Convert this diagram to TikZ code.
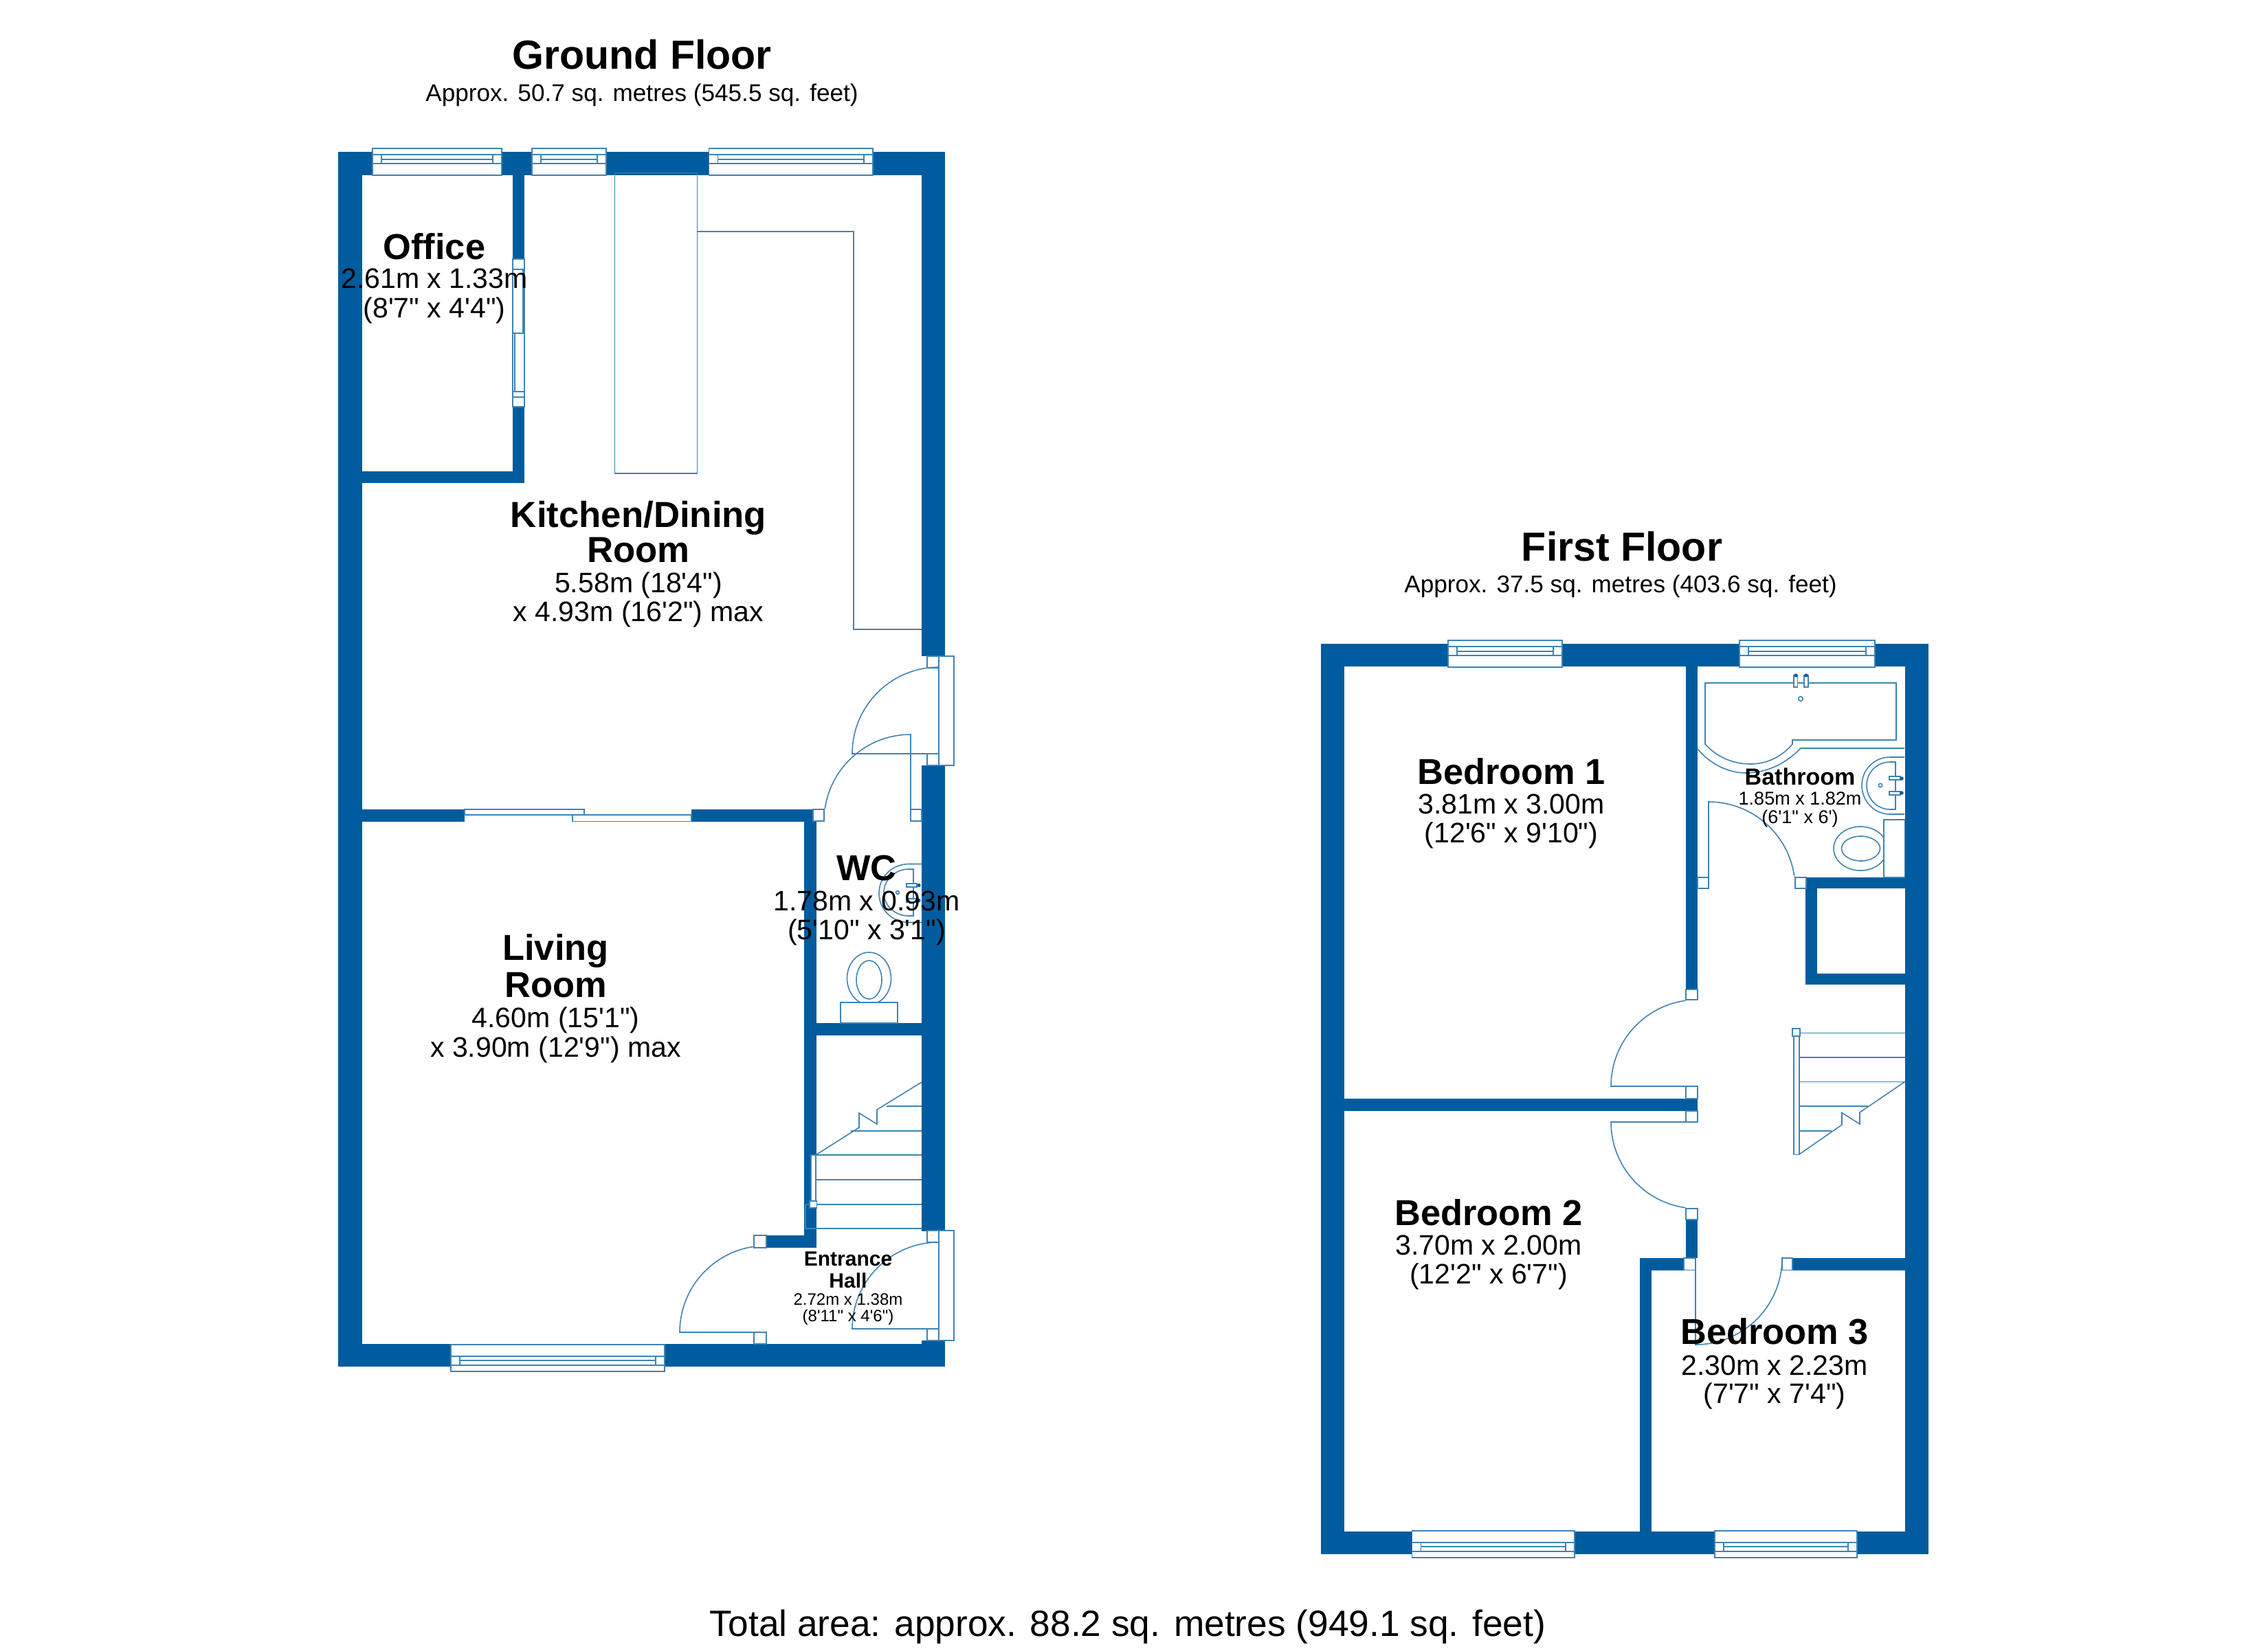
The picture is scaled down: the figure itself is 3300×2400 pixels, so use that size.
\documentclass[tikz,border=0pt]{standalone}
\usepackage{fontspec}
\setmainfont{Liberation Sans}
\newfontfamily\plainface{Liberation Sans}
\definecolor{wallblue}{HTML}{005C9E}
\definecolor{linkblue}{HTML}{3F83B3}
\tikzset{
  wall/.style={fill=wallblue,draw=none},
  fixture/.style={draw=linkblue,line width=0.45pt,fill=white},
  outline/.style={draw=linkblue,line width=0.45pt},
  tapdot/.style={fill=wallblue,draw=none},
  label/.style={anchor=base,align=center,inner sep=0pt,outer sep=0pt,text=black},
}
\newcommand\sz[2]{\fontsize{#1}{#2}\selectfont\plainface}
\newcommand\nm[1]{\bfseries\sz{14.9}{14.9}#1}
\newcommand\dm[1]{\sz{11.67}{11.8}#1}
\newcommand\winT[3]{%
  \filldraw[fixture] (#1,#3) rectangle (#2,{#3+39});
  \draw[outline] (#1,{#3+9}) -- (#2,{#3+9}) (#1,{#3+22}) -- (#2,{#3+22});
  \draw[outline] ({#1+13},{#3+9}) -- ({#1+13},{#3+22}) ({#2-13},{#3+9}) -- ({#2-13},{#3+22});
  \draw[outline] ({#1+13},{#3+16}) -- ({#2-13},{#3+16});
}
\newcommand\winB[3]{%
  \filldraw[fixture] (#1,{#3-39}) rectangle (#2,#3);
  \draw[outline] (#1,{#3-9}) -- (#2,{#3-9}) (#1,{#3-22}) -- (#2,{#3-22});
  \draw[outline] ({#1+13},{#3-9}) -- ({#1+13},{#3-22}) ({#2-13},{#3-9}) -- ({#2-13},{#3-22});
  \draw[outline] ({#1+13},{#3-16}) -- ({#2-13},{#3-16});
}
\newcommand\jamb[4]{\filldraw[fixture] (#1,#2) rectangle (#3,#4);}
\begin{document}
\begin{tikzpicture}[x=0.01cm,y=-0.01cm]
\useasboundingbox (0,0) rectangle (3300,2400);
\fill[white] (0,0) rectangle (3300,2400);

% ---------- Ground floor walls
\fill[wall] (492,221) rectangle (527,1989);
\fill[wall] (492,221) rectangle (1375,255);
\fill[wall] (1341,221) rectangle (1375,955);
\fill[wall] (1341,1114) rectangle (1375,1792);
\fill[wall] (1341,1951) rectangle (1375,1989);
\fill[wall] (492,1956) rectangle (1375,1989);
\fill[wall] (746,255) rectangle (763,703);
\fill[wall] (527,686) rectangle (763,703);
\fill[wall] (527,1178) rectangle (676,1195.6);
\fill[wall] (1006,1178) rectangle (1188,1195.6);
\fill[wall] (1170,1178) rectangle (1188,1816);
\fill[wall] (1115,1798) rectangle (1188,1816);
\fill[wall] (1188,1489) rectangle (1341,1506.5);

% ground floor windows
\winT{542}{730}{216}
\winT{774}{882}{216}
\winT{1031.5}{1270}{216}
\winB{656}{967}{1996}

% office side window
\filldraw[fixture] (746,377) rectangle (763,592);
\draw[outline] (746,392) -- (763,392) (746,570) -- (763,570) (746,578) -- (763,578);
\draw[outline] (746,392) rectangle (761,485);
\draw[outline] (749,485) rectangle (763,570);

% sliding door
\filldraw[fixture] (676,1178) rectangle (850,1186);
\filldraw[fixture] (833,1186) rectangle (1006,1195.6);

% kitchen units
\draw[outline] (894.5,251.5) rectangle (1014.5,689);
\draw[outline] (1014.5,337) -- (1242,337) -- (1242,916) -- (1341,916);

% front side door, kitchen
\filldraw[fixture] (1366,955) rectangle (1388,1114);
\jamb{1349}{955}{1366}{972}
\jamb{1349}{1097}{1366}{1114}
\draw[outline] (1366,972) -- (1366,1097) -- (1240,1097) arc[start angle=180,end angle=270,radius=126];
% WC door
\jamb{1183}{1178}{1199}{1195}
\jamb{1325}{1178}{1341}{1195}
\draw[outline] (1325,1178) -- (1325,1069) arc[start angle=270,end angle=188,radius=126];

% WC fixtures
\draw[outline] (1341,1257.5) -- (1322,1257.5) .. controls (1297,1258) and (1279,1277) .. (1279,1300) .. controls (1279,1323) and (1297,1342) .. (1322,1342.5) -- (1341,1342.5);
\draw[outline] (1329,1265) -- (1322,1265) .. controls (1302,1265) and (1286,1281) .. (1286,1299) .. controls (1286,1318) and (1302,1333) .. (1322,1333) -- (1329,1333) -- cycle;
\filldraw[fixture] (1319,1286) rectangle (1334,1291);
\filldraw[fixture] (1319,1308) rectangle (1334,1313);
\fill[tapdot] (1337,1288.5) circle[radius=2.7];
\fill[tapdot] (1337,1310.5) circle[radius=2.7];
\draw[outline] (1306,1299) circle[radius=2.5];
\draw[outline] (1264.5,1424) ellipse[x radius=32,y radius=38];
\draw[outline] (1264.5,1426) ellipse[x radius=18.5,y radius=28];
\filldraw[fixture] (1223,1459) rectangle (1306,1489);

% ground stairs
\draw[outline] (1172,1788) -- (1341,1788) (1172,1753) -- (1172,1788);
\draw[outline] (1172,1753) -- (1341,1753) (1187,1717) -- (1341,1717) (1187,1681) -- (1341,1681)
  (1238,1646) -- (1341,1646) (1290,1610) -- (1341,1610);
\draw[outline] (1187,1681) -- (1250,1641) -- (1250,1620) -- (1276,1636) -- (1276,1615) -- (1341,1575);
\filldraw[fixture] (1180,1681) rectangle (1187,1748);
\filldraw[fixture] (1178,1748) rectangle (1188.5,1758);

% entrance doors
\jamb{1097}{1798}{1115}{1816}
\jamb{1097}{1939}{1115}{1956}
\draw[outline] (1115,1939) -- (989,1939) arc[start angle=180,end angle=262,radius=126];
\filldraw[fixture] (1366,1791) rectangle (1388,1951);
\jamb{1349}{1791}{1366}{1808}
\jamb{1349}{1934}{1366}{1951}
\draw[outline] (1366,1808) -- (1366,1934) -- (1240,1934) arc[start angle=180,end angle=270,radius=126];

% ---------- First floor walls
\fill[wall] (1922,937) rectangle (1956,2262);
\fill[wall] (1922,937) rectangle (2805.5,970);
\fill[wall] (2771.5,937) rectangle (2805.5,2262);
\fill[wall] (1922,2228.5) rectangle (2805.5,2262);
\fill[wall] (2453,970) rectangle (2470,1440);
\fill[wall] (1956,1599) rectangle (2470,1617);
\fill[wall] (2453,1775) rectangle (2470,1831);
\fill[wall] (2386,1831) rectangle (2450,1848.5);
\fill[wall] (2386,1831) rectangle (2403,2228.5);
\fill[wall] (2608,1831) rectangle (2771.5,1848.5);
\fill[wall] (2627,1277) rectangle (2771.5,1293);
\fill[wall] (2627,1277) rectangle (2644,1433);
\fill[wall] (2627,1417) rectangle (2771.5,1433);

% first floor windows
\winT{2107}{2273}{932}
\winT{2531}{2728}{932}
\winB{2054.5}{2291}{2267}
\winB{2495}{2702}{2267}

% first floor doors
\jamb{2453}{1440}{2470}{1455}
\jamb{2453}{1581}{2470}{1599}
\draw[outline] (2453,1581) -- (2344,1581) arc[start angle=180,end angle=262,radius=126];
\jamb{2453}{1617}{2470}{1633}
\jamb{2453}{1759}{2470}{1775}
\draw[outline] (2453,1633) -- (2344,1633) arc[start angle=180,end angle=98,radius=126];
\jamb{2450}{1831}{2467}{1848.5}
\jamb{2593}{1831}{2608}{1848.5}
\draw[outline] (2467,1848.5) -- (2467,1957) arc[start angle=90,end angle=0,radius=126];
\jamb{2470}{1277}{2486}{1293}
\jamb{2612}{1277}{2628}{1293}
\draw[outline] (2486,1277) -- (2486,1167) arc[start angle=270,end angle=352,radius=126];

% bathroom fixtures
\draw[outline] (2481,994) -- (2759,994) -- (2759,1077) -- (2608,1077) -- (2608,1083) .. controls (2592,1102) and (2570,1112) .. (2547,1112) .. controls (2522,1112) and (2498,1102) .. (2481,1083) -- cycle;
\draw[outline] (2470,1090) .. controls (2488,1112) and (2515,1125) .. (2540,1125) .. controls (2572,1125) and (2600,1110) .. (2620,1089) -- (2771,1089);
\filldraw[fixture] (2610,983) rectangle (2615.5,1000);
\filldraw[fixture] (2625,983) rectangle (2631,1000);
\fill[tapdot] (2613,983) circle[radius=2.7];
\fill[tapdot] (2628,983) circle[radius=2.7];
\draw[outline] (2620,1017) circle[radius=3.3];
\draw[outline] (2771,1102) -- (2750,1102) .. controls (2727,1102) and (2709,1120) .. (2709,1143) .. controls (2709,1166) and (2727,1185) .. (2750,1185) -- (2771,1185);
\draw[outline] (2758,1109) -- (2750,1109) .. controls (2731,1109) and (2716,1124) .. (2716,1143) .. controls (2716,1162) and (2731,1178) .. (2750,1178) -- (2758,1178) -- cycle;
\filldraw[fixture] (2749,1130) rectangle (2765,1135);
\filldraw[fixture] (2749,1152) rectangle (2765,1157);
\fill[tapdot] (2767,1133) circle[radius=2.7];
\fill[tapdot] (2767,1154) circle[radius=2.7];
\draw[outline] (2736,1143) circle[radius=2.7];
\draw[outline] (2707,1235) ellipse[x radius=39,y radius=32];
\draw[outline] (2707.5,1235) ellipse[x radius=28,y radius=18];
\filldraw[fixture] (2741,1193) rectangle (2771.5,1277);

% first floor stairs
\draw[outline] (2618,1503.6) -- (2771.5,1503.6) (2618,1539) -- (2771.5,1539) (2618,1574.5) -- (2771.5,1574.5)
  (2618,1610) -- (2718,1610) (2618,1646) -- (2665,1646);
\draw[outline] (2618,1680) -- (2680,1637) -- (2680,1619.5) -- (2706,1636) -- (2706,1619) -- (2771.5,1574.5);
\filldraw[fixture] (2610,1508) rectangle (2618,1680.6);
\filldraw[fixture] (2608,1497) rectangle (2619,1508);

% ---------- Text
\node[label] (gftitle) at (934,101) {\bfseries\sz{16.8}{18}Ground Floor};
\node[label] (gfarea) at (934,148) {\sz{10}{11}Approx. 50.7 sq. metres (545.5 sq. feet)};
\node[label] (fftitle) at (2360,816) {\bfseries\sz{16.8}{18}First Floor};
\node[label] (ffarea) at (2358,862) {\sz{10}{11}Approx. 37.5 sq. metres (403.6 sq. feet)};
\node[label] (total) at (1641,2381) {\sz{15.15}{16}Total area: approx. 88.2 sq. metres (949.1 sq. feet)};

\node[label,font=\sz{11.67}{11.95}] (office) at (632,462) {\nm{Office}\\[0.2pt]\dm{2.61m x 1.33m}\\\dm{(8'7" x 4'4")}};
\node[label,font=\sz{11.67}{11.81}] (kitchen) at (929,904.5) {\bfseries\sz{15}{15}Kitchen/Dining\\[0pt]\bfseries\sz{15}{15}Room\\[0.71pt]\dm{5.58m (18'4")}\\\dm{x 4.93m (16'2") max}};
\node[label,font=\sz{11.67}{11.95}] (living) at (808.5,1538) {\nm{Living}\\[1.05pt]\nm{Room}\\[0.57pt]\dm{4.60m (15'1")}\\\dm{x 3.90m (12'9") max}};
\node[label,font=\sz{11.67}{11.81}] (wc) at (1261,1367.5) {\nm{WC}\\[0.7pt]\dm{1.78m x 0.93m}\\\dm{(5'10" x 3'1")}};
\node[label,font=\sz{6.83}{6.83}] (hall) at (1234,1923) {\bfseries\sz{8.54}{9}Entrance\\[2.27pt]\bfseries\sz{8.54}{9}Hall\\\sz{6.83}{6.83}2.72m x 1.38m\\\sz{6.83}{6.83}(8'11" x 4'6")};
\node[label,font=\sz{11.67}{11.81}] (bed1) at (2199,1226.5) {\nm{Bedroom 1}\\[0.5pt]\dm{3.81m x 3.00m}\\\dm{(12'6" x 9'10")}};
\node[label,font=\sz{11.67}{11.81}] (bed2) at (2166,1868) {\nm{Bedroom 2}\\[0.3pt]\dm{3.70m x 2.00m}\\\dm{(12'2" x 6'7")}};
\node[label,font=\sz{11.67}{11.52}] (bed3) at (2582,2042) {\nm{Bedroom 3}\\[1.3pt]\dm{2.30m x 2.23m}\\\dm{(7'7" x 7'4")}};
\node[label,font=\sz{7.68}{7.68}] (bath) at (2619,1198) {\bfseries\sz{9.67}{9.67}Bathroom\\[0.29pt]\sz{7.68}{7.68}1.85m x 1.82m\\\sz{7.68}{7.68}(6'1" x 6')};
\end{tikzpicture}
\end{document}
